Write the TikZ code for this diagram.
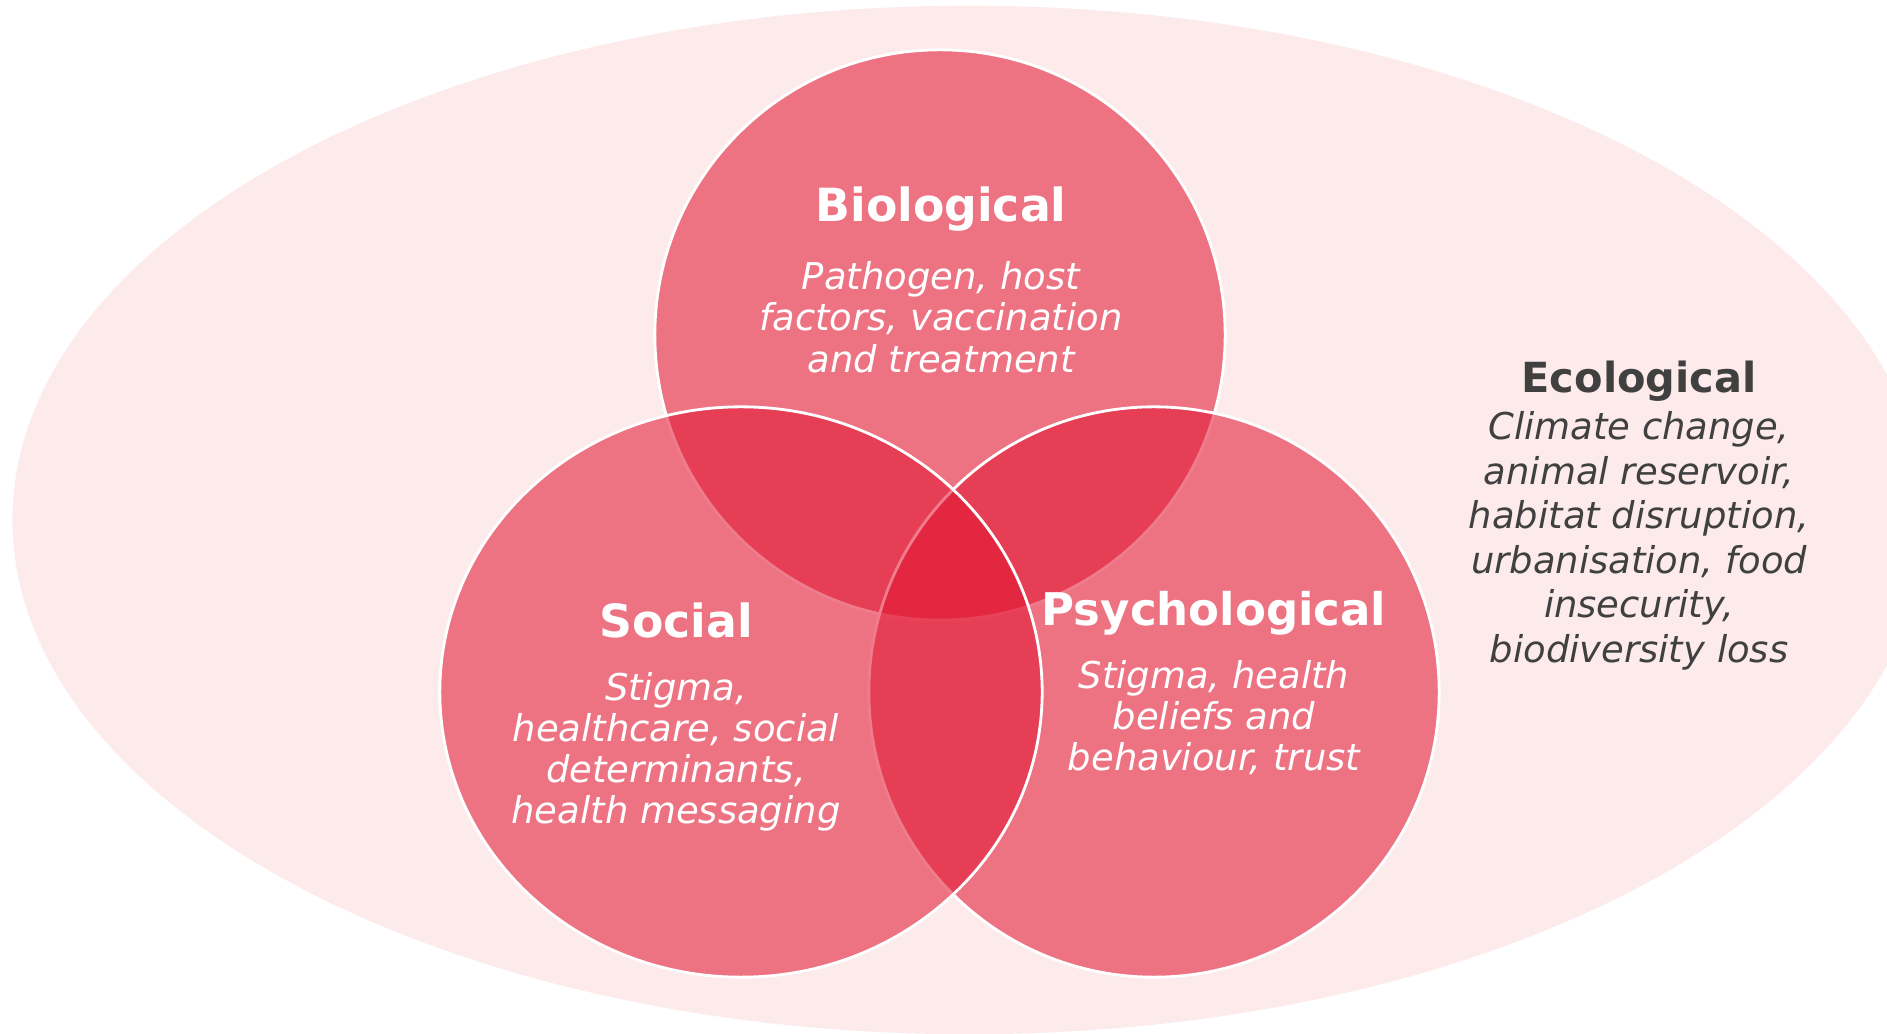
\documentclass[tikz,border=0pt]{standalone}
\usepackage{fontspec}
\setmainfont{DejaVu Sans}
\usepackage{tikz}
\usetikzlibrary{positioning}
\definecolor{vennred}{RGB}{226,22,50}
\definecolor{ecopink}{RGB}{253,235,236}
\definecolor{ecogray}{RGB}{64,64,64}

\begin{document}
\begin{tikzpicture}[
	x=0.01cm, y=-0.01cm,
	node distance = 0.29cm,
	venn/.style = {draw=white, line width=0.8pt, fill=vennred, fill opacity=0.56},
	head/.style = {inner sep=0pt, text=white,
		font=\fontsize{13}{15}\selectfont\bfseries},
	body/.style = {inner sep=0pt, text=white, align=center,
		font=\fontsize{10.5}{11.7}\selectfont\itshape},
	]
	\clip (0,0) rectangle (1887,1034);
	\fill[ecopink] (969,520) ellipse [x radius=9.56cm, y radius=5.14cm];

	\draw[venn] (940,335) circle [radius=2.85cm];
	\draw[venn] (1154,692) circle [radius=2.85cm];
	\draw[venn] (741,692) ellipse [x radius=3.01cm, y radius=2.85cm];   % <--- social one is a bit wider

	\node[head] (bioT) at (941,209) {Biological};
	\node[body, below=of bioT] (bioD) {Pathogen, host\\factors, vaccination\\and treatment};

	\node[head] (socT) at (676,620) {Social};
	\node[body, below=0.33cm of socT] (socD) {Stigma,\\healthcare, social\\determinants,\\health messaging};

	\node[head, font=\fontsize{12.8}{15}\selectfont\bfseries] (psyT) at (1214,613) {Psychological};
	\node[body, below=0.24cm of psyT] (psyD) {Stigma, health\\beliefs and\\behaviour, trust};

	\node[head, text=ecogray, font=\fontsize{11.8}{14}\selectfont\bfseries] (ecoT) at (1639,381) {Ecological};
	\node[body, text=ecogray, font=\fontsize{10.5}{12.65}\selectfont\itshape, below=0.09cm of ecoT] (ecoD)
		{Climate change,\\animal reservoir,\\habitat disruption,\\urbanisation, food\\insecurity,\\biodiversity loss};
\end{tikzpicture}
\end{document}
